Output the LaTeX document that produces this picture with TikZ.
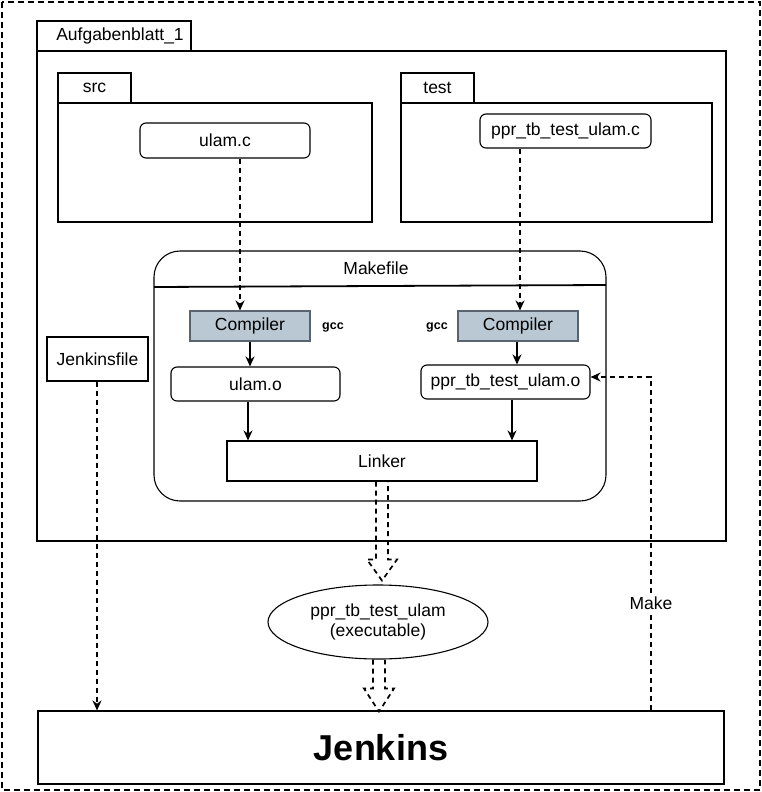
\documentclass[tikz,border=0pt]{standalone}
\usepackage{fontspec}
\setmainfont{Liberation Sans}
\usetikzlibrary{arrows.meta,shapes.geometric,calc}
\definecolor{compfill}{RGB}{186,200,211}
\definecolor{compdraw}{RGB}{90,100,110}
\begin{document}
\begin{tikzpicture}[x=1pt,y=-1pt,
  lbl/.style={font=\fontsize{17.5}{20}\selectfont},
  box/.style={draw,line width=1.1pt,inner sep=0pt,lbl},
  rbox/.style={box,rounded corners=6pt},
  comp/.style={box,draw=compdraw,fill=compfill},
  gcclbl/.style={font=\bfseries\fontsize{12.5}{14}\selectfont},
  solidarrow/.style={line width=1.8pt,-{Stealth[length=10pt,width=9pt]}},
  dasharrow/.style={line width=1.7pt,dash pattern=on 5pt off 4pt,-{Stealth[length=10pt,width=9pt]}},
  flexarrow/.style={line width=1.7pt,dash pattern=on 5pt off 4pt,line join=miter}
]
\useasboundingbox (0,0) rectangle (762,792);
% outer dashed frame
\draw[line width=1.7pt,dash pattern=on 6pt off 4pt] (2,2) rectangle (760,790);
% Aufgabenblatt_1 package
\draw[line width=1.1pt] (37,51) rectangle (726,541);
\draw[line width=1.1pt] (37,21) rectangle (191,51);
\node[lbl] (agb) at (120,36) {Aufgabenblatt\_1};
% src package
\draw[line width=1.1pt] (58,103) rectangle (372,222);
\draw[line width=1.1pt] (58,73) rectangle (131,103);
\node[lbl] (src) at (94.5,88) {src};
% test package
\draw[line width=1.1pt] (401,103) rectangle (712,222);
\draw[line width=1.1pt] (401,73) rectangle (474,103);
\node[lbl] (test) at (437.5,88) {test};
% Makefile container
\draw[line width=1.1pt,rounded corners=26pt] (154,251) rectangle (606,501);
\draw[line width=1.8pt] (154,287) -- (606,285);
\node[lbl] (mk) at (376,268) {Makefile};
% nodes
\node[rbox,minimum width=170pt,minimum height=35pt] (ulamc) at (225,140.5) {ulam.c};
\node[rbox,minimum width=171pt,minimum height=34pt] (pprc) at (565.5,131) {ppr\_tb\_test\_ulam.c};
\node[comp,minimum width=120pt,minimum height=30pt] (comp1) at (250,326) {Compiler};
\node[comp,minimum width=120pt,minimum height=30pt] (comp2) at (518,326) {Compiler};
\node[gcclbl] (gcc1) at (333,327) {gcc};
\node[gcclbl] (gcc2) at (437,327) {gcc};
\node[rbox,minimum width=169pt,minimum height=34pt] (ulamo) at (255.5,384) {ulam.o};
\node[rbox,minimum width=169pt,minimum height=34pt] (ppro) at (505.5,382) {ppr\_tb\_test\_ulam.o};
\node[box,minimum width=310pt,minimum height=40pt] (linker) at (382,461) {Linker};
\node[box,minimum width=101pt,minimum height=44pt] (jfile) at (97.5,359) {Jenkinsfile};
\node[ellipse,draw,line width=1.1pt,inner sep=0pt,minimum width=220pt,minimum height=74pt,lbl,align=center] (exe) at (378,622) {ppr\_tb\_test\_ulam\\(executable)};
\node[box,minimum width=686pt,minimum height=73pt,font=\bfseries\fontsize{36}{40}\selectfont] (jenkins) at (381,747.5) {Jenkins};
% connectors
\draw[dasharrow] (ulamc.south -| 240,0) -- (comp1.north -| 240,0);
\draw[dasharrow] (pprc.south -| 520,0) -- (comp2.north -| 520,0);
\draw[solidarrow] (comp1.south -| 250,0) -- (ulamo.north -| 250,0);
\draw[solidarrow] (comp2.south -| 517,0) -- (ppro.north -| 517,0);
\draw[solidarrow] (ulamo.south -| 248,0) -- (linker.north -| 248,0);
\draw[solidarrow] (ppro.south -| 512,0) -- (linker.north -| 512,0);
\draw[dasharrow] (jfile.south -| 97,0) -- (jenkins.north -| 97,0);
\draw[dasharrow] (jenkins.north -| 651,0) -- (651,377) coordinate (mkturn) -- (ppro.east |- mkturn);
\node[lbl,fill=white,inner sep=2pt] (make) at (651,603) {Make};
% flex (hollow dashed) arrows
\coordinate (f1) at (linker.south -| 382,0);
\draw[flexarrow] ($(f1)+(-6,0)$) -- ($(f1)+(-6,78)$) -- ($(f1)+(-15,78)$) -- ($(f1)+(0,99)$) -- ($(f1)+(15,78)$) -- ($(f1)+(6,78)$) -- ($(f1)+(6,0)$);
\coordinate (f2) at (exe.south -| 379,0);
\draw[flexarrow] ($(f2)+(-6,0)$) -- ($(f2)+(-6,29)$) -- ($(f2)+(-15,29)$) -- ($(f2)+(0,52)$) -- ($(f2)+(15,29)$) -- ($(f2)+(6,29)$) -- ($(f2)+(6,0)$);
\end{tikzpicture}
\end{document}
